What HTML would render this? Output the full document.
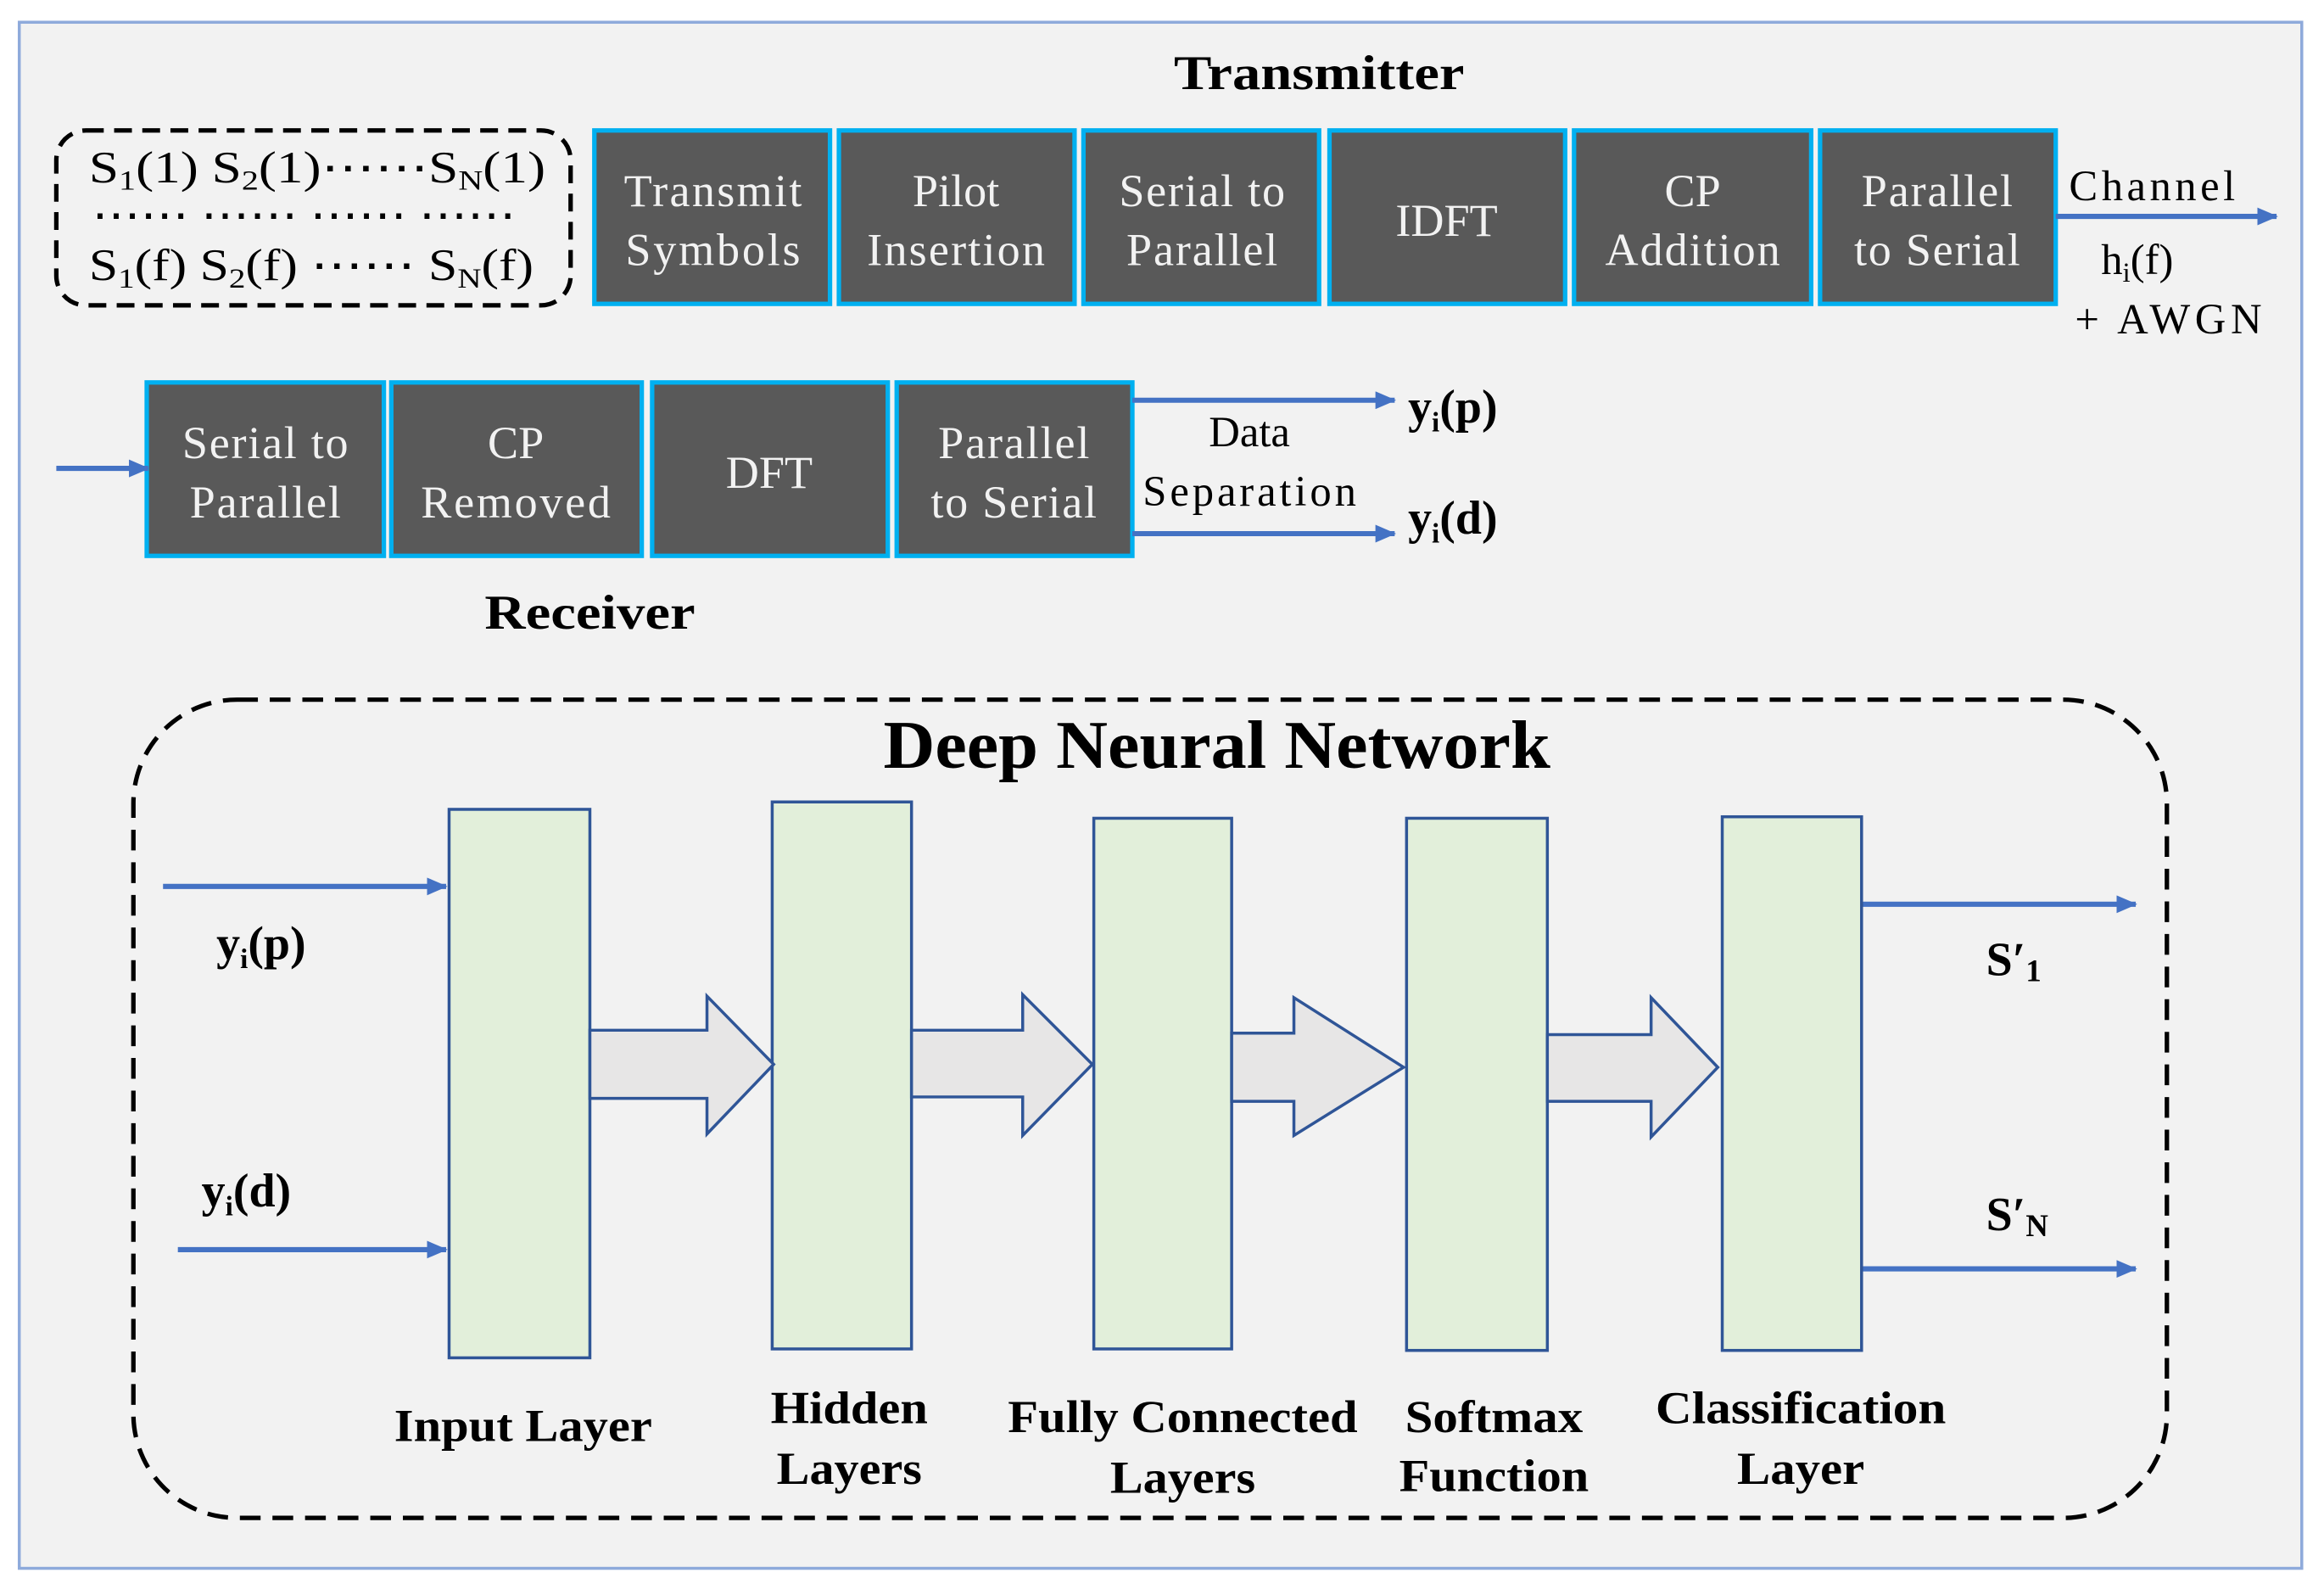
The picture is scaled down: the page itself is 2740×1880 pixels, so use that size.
<!DOCTYPE html>
<html><head><meta charset="utf-8"><style>
html,body{margin:0;padding:0;background:#fff;}
svg{display:block;}
text{font-family:"Liberation Serif",serif;}
</style></head><body>
<svg width="2740" height="1880" viewBox="0 0 1568 1076" preserveAspectRatio="none" xmlns="http://www.w3.org/2000/svg">
<defs>
<marker id="ah" markerWidth="14" markerHeight="12" refX="13" refY="6" orient="auto" markerUnits="userSpaceOnUse" viewBox="0 0 14 12">
<path d="M0,0 L14,6 L0,12 z" fill="#4472c4"/></marker>
</defs>
<rect x="0" y="0" width="1568" height="1076" fill="#fff"/>
<rect x="13" y="15" width="1540" height="1043" fill="#f2f2f2" stroke="#8eaadb" stroke-width="2"/>
<text x="792" y="60" font-size="33" font-weight="bold" textLength="196" lengthAdjust="spacingAndGlyphs">Transmitter</text>
<rect x="38" y="88" width="347" height="118" rx="20" fill="none" stroke="#000" stroke-width="3" stroke-dasharray="12,7"/>
<g font-size="30">
<text x="60" y="123" textLength="308" lengthAdjust="spacingAndGlyphs">S<tspan font-size="19" dy="5">1</tspan><tspan dy="-5">(1) S</tspan><tspan font-size="19" dy="5">2</tspan><tspan dy="-5">(1)⋯⋯S</tspan><tspan font-size="19" dy="5">N</tspan><tspan dy="-5">(1)</tspan></text>
<text x="62" y="155" textLength="286" lengthAdjust="spacingAndGlyphs">⋯⋯  ⋯⋯  ⋯⋯   ⋯⋯</text>
<text x="60" y="189" textLength="300" lengthAdjust="spacingAndGlyphs">S<tspan font-size="19" dy="5">1</tspan><tspan dy="-5">(f)  S</tspan><tspan font-size="19" dy="5">2</tspan><tspan dy="-5">(f) ⋯⋯ S</tspan><tspan font-size="19" dy="5">N</tspan><tspan dy="-5">(f)</tspan></text>
</g>
<g fill="#595959" stroke="#00b0f0" stroke-width="3">
<rect x="401" y="88" width="159" height="117"/><rect x="566" y="88" width="159" height="117"/>
<rect x="731" y="88" width="159" height="117"/><rect x="897" y="88" width="159" height="117"/>
<rect x="1062" y="88" width="160" height="117"/><rect x="1228" y="88" width="159" height="117"/>
<rect x="99" y="258" width="160" height="117"/><rect x="264" y="258" width="169" height="117"/>
<rect x="440" y="258" width="159" height="117"/><rect x="605" y="258" width="159" height="117"/>
</g>
<g font-size="31" fill="#f2f2f2" text-anchor="middle">
<text x="481" y="139" textLength="120">Transmit</text><text x="481" y="179" textLength="118">Symbols</text>
<text x="645" y="139">Pilot</text><text x="645" y="179" textLength="120">Insertion</text>
<text x="811" y="139" textLength="112">Serial to</text><text x="811" y="179" textLength="102">Parallel</text>
<text x="976" y="159">IDFT</text>
<text x="1142" y="139">CP</text><text x="1142" y="179" textLength="118">Addition</text>
<text x="1307" y="139" textLength="102">Parallel</text><text x="1307" y="179" textLength="112">to Serial</text>
<text x="179" y="309" textLength="112">Serial to</text><text x="179" y="349" textLength="102">Parallel</text>
<text x="348" y="309">CP</text><text x="348" y="349" textLength="128">Removed</text>
<text x="519" y="329">DFT</text>
<text x="684" y="309" textLength="102">Parallel</text><text x="684" y="349" textLength="112">to Serial</text>
</g>
<g stroke="#4472c4" stroke-width="3.5" fill="none">
<line x1="1387" y1="146" x2="1536" y2="146" marker-end="url(#ah)"/>
<line x1="38" y1="316" x2="100" y2="316" marker-end="url(#ah)"/>
<line x1="764" y1="270" x2="941" y2="270" marker-end="url(#ah)"/>
<line x1="764" y1="360" x2="941" y2="360" marker-end="url(#ah)"/>
<line x1="110" y1="598" x2="301" y2="598" marker-end="url(#ah)"/>
<line x1="120" y1="843" x2="301" y2="843" marker-end="url(#ah)"/>
<line x1="1256" y1="610" x2="1441" y2="610" marker-end="url(#ah)"/>
<line x1="1256" y1="856" x2="1441" y2="856" marker-end="url(#ah)"/>
</g>
<g font-size="29" text-anchor="middle">
<text x="1452" y="135" textLength="112">Channel</text>
<text x="1442" y="185">h<tspan font-size="19" dy="5">i</tspan><tspan dy="-5">(f)</tspan></text>
<text x="1463" y="225" textLength="126">+ AWGN</text>
<text x="843" y="301">Data</text><text x="843" y="341" textLength="144">Separation</text>
</g>
<g font-size="32" font-weight="bold">
<text x="950" y="285">y<tspan font-size="19" dy="6">i</tspan><tspan dy="-6">(p)</tspan></text>
<text x="950" y="360">y<tspan font-size="19" dy="6">i</tspan><tspan dy="-6">(d)</tspan></text>
<text x="146" y="647">y<tspan font-size="19" dy="6">i</tspan><tspan dy="-6">(p)</tspan></text>
<text x="136" y="814">y<tspan font-size="19" dy="6">i</tspan><tspan dy="-6">(d)</tspan></text>
<text x="1340" y="658">S′<tspan font-size="21" dy="4">1</tspan></text>
<text x="1340" y="830">S′<tspan font-size="21" dy="4">N</tspan></text>
</g>
<text x="327" y="424" font-size="33" font-weight="bold" textLength="142" lengthAdjust="spacingAndGlyphs">Receiver</text>
<rect x="90" y="472" width="1372" height="552" rx="70" fill="none" stroke="#000" stroke-width="3" stroke-dasharray="14,8"/>
<text x="596" y="518" font-size="46" font-weight="bold" textLength="450" lengthAdjust="spacingAndGlyphs">Deep Neural Network</text>
<g fill="#e2efda" stroke="#2f5597" stroke-width="2">
<rect x="303" y="546" width="95" height="370"/><rect x="521" y="541" width="94" height="369"/>
<rect x="738" y="552" width="93" height="358"/><rect x="949" y="552" width="95" height="359"/>
<rect x="1162" y="551" width="94" height="360"/>
</g>
<g fill="#e7e6e6" stroke="#2f5597" stroke-width="2">
<path d="M398,695 L477,695 L477,672 L522,718 L477,765 L477,741 L398,741 Z"/>
<path d="M615,695 L690,695 L690,671 L737,718 L690,766 L690,740 L615,740 Z"/>
<path d="M831,697 L873,697 L873,673 L947,720 L873,766 L873,743 L831,743 Z"/>
<path d="M1044,698 L1114,698 L1114,673 L1159,720 L1114,767 L1114,743 L1044,743 Z"/>
</g>
<g font-size="31" font-weight="bold" text-anchor="middle" lengthAdjust="spacingAndGlyphs">
<text x="353" y="972" textLength="174" lengthAdjust="spacingAndGlyphs">Input Layer</text>
<text x="573" y="960" textLength="106" lengthAdjust="spacingAndGlyphs">Hidden</text><text x="573" y="1001" textLength="98" lengthAdjust="spacingAndGlyphs">Layers</text>
<text x="798" y="966" textLength="236" lengthAdjust="spacingAndGlyphs">Fully Connected</text><text x="798" y="1007" textLength="98" lengthAdjust="spacingAndGlyphs">Layers</text>
<text x="1008" y="966" textLength="120" lengthAdjust="spacingAndGlyphs">Softmax</text><text x="1008" y="1006" textLength="128" lengthAdjust="spacingAndGlyphs">Function</text>
<text x="1215" y="960" textLength="196" lengthAdjust="spacingAndGlyphs">Classification</text><text x="1215" y="1001" textLength="86" lengthAdjust="spacingAndGlyphs">Layer</text>
</g>
</svg>
</body></html>
